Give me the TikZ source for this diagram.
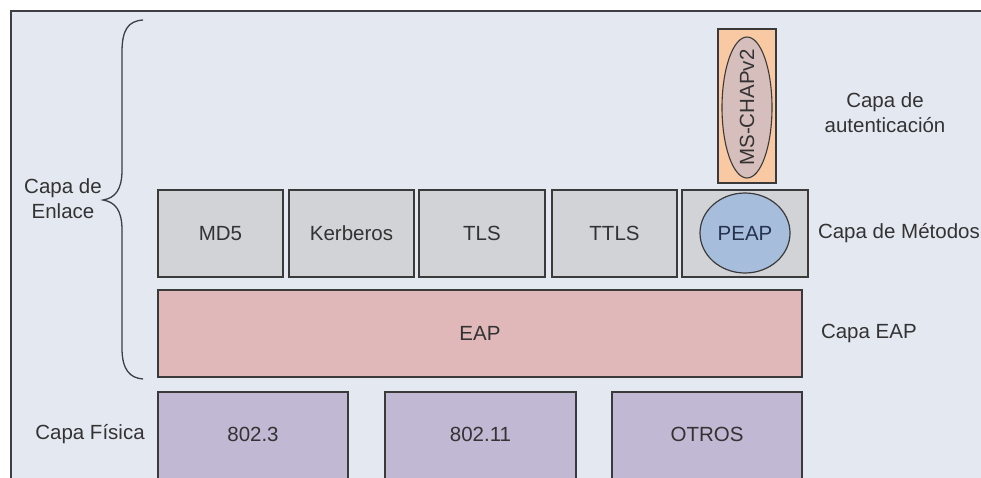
\documentclass[tikz,border=0pt]{standalone}
\usepackage{fontspec}
\setmainfont{Liberation Sans}
\usetikzlibrary{shapes.geometric}
\definecolor{framebg}{HTML}{E4E9F1}
\definecolor{framedraw}{HTML}{3E3E44}
\definecolor{methodfill}{HTML}{D2D3D7}
\definecolor{eapfill}{HTML}{E0B8B9}
\definecolor{physfill}{HTML}{C1B8D3}
\definecolor{authfill}{HTML}{F8C9A2}
\definecolor{authell}{HTML}{D6BEBC}
\definecolor{peapfill}{HTML}{A7BDDC}
\definecolor{bordercol}{HTML}{3A3A3A}
\definecolor{txtcol}{HTML}{333333}
\definecolor{peaptxt}{HTML}{26334F}
\begin{document}
\begin{tikzpicture}[x=1pt,y=-1pt,
  every node/.style={font=\fontsize{20.5}{25}\selectfont, text=txtcol, inner sep=0pt, outer sep=0pt},
  layerbox/.style={draw=bordercol, line width=1.4pt, anchor=north west, minimum height=87pt},
  methodbox/.style={layerbox, fill=methodfill},
  eapbox/.style={layerbox, fill=eapfill},
  physbox/.style={layerbox, fill=physfill, minimum height=92pt},
  lbl/.style={align=center},
  brace/.style={draw=framedraw, line width=1.3pt}
]
\clip (0,0) rectangle (981,477);
\fill[white] (0,0) rectangle (981,477);
\draw[fill=framebg, draw=framedraw, line width=1.5pt] (11,11) rectangle (995,495);

% brace
\coordinate (btop) at (143,20);
\coordinate (btip) at (103,200);
\coordinate (bbot) at (143,379);
\draw[brace] (btop) .. controls (128,21) and (122,30) .. (122,52) -- (122,170)
  .. controls (122,190) and (115,198) .. (btip)
  .. controls (115,202) and (122,210) .. (122,230) -- (122,348)
  .. controls (122,370) and (130,378) .. (bbot);

% method boxes
\node[methodbox, minimum width=125pt] (md5) at (158,190) {};
\node at (md5.center) {MD5};
\node[methodbox, minimum width=125pt] (kerb) at (289,190) {};
\node at (kerb.center) {Kerberos};
\node[methodbox, minimum width=126pt] (tls) at (419,190) {};
\node at (tls.center) {TLS};
\node[methodbox, minimum width=125pt] (ttls) at (552,190) {};
\node at (ttls.center) {TTLS};
\node[methodbox, minimum width=126pt] (peapbox) at (682,190) {};
\node[ellipse, draw=bordercol, line width=1.2pt, fill=peapfill, minimum width=90pt, minimum height=80pt] (peap) at (745,233) {};
\node[text=peaptxt] at (peap.center) {PEAP};

% EAP
\node[eapbox, minimum width=644pt] (eap) at (158,290) {};
\node at (eap.center) {EAP};

% physical
\node[physbox, minimum width=190pt] (p1) at (158,392) {};
\node at (158+95,434) {802.3};
\node[physbox, minimum width=191pt] (p2) at (385,392) {};
\node at (385+95.5,434) {802.11};
\node[physbox, minimum width=190pt] (p3) at (612,392) {};
\node at (612+95,434) {OTROS};

% authentication
\node[draw=bordercol, line width=1.4pt, fill=authfill, anchor=north west, minimum width=58pt, minimum height=154pt] (authbox) at (718,29) {};
\node[ellipse, draw=bordercol, line width=1.1pt, fill=authell, minimum width=50pt, minimum height=141pt] (mschap) at (747,107.5) {};
\node[rotate=90] at (mschap.center) {MS-CHAPv2};

% labels
\node[lbl] (enlace) at (63,199) {Capa de\\Enlace};
\node[lbl] (autent) at (885,113) {Capa de\\autenticación};
\node[anchor=west] (metodos) at (818,233) {Capa de Métodos};
\node[anchor=west] (capaeap) at (821,333) {Capa EAP};
\node (fisica) at (90,434) {Capa Física};
\end{tikzpicture}
\end{document}
